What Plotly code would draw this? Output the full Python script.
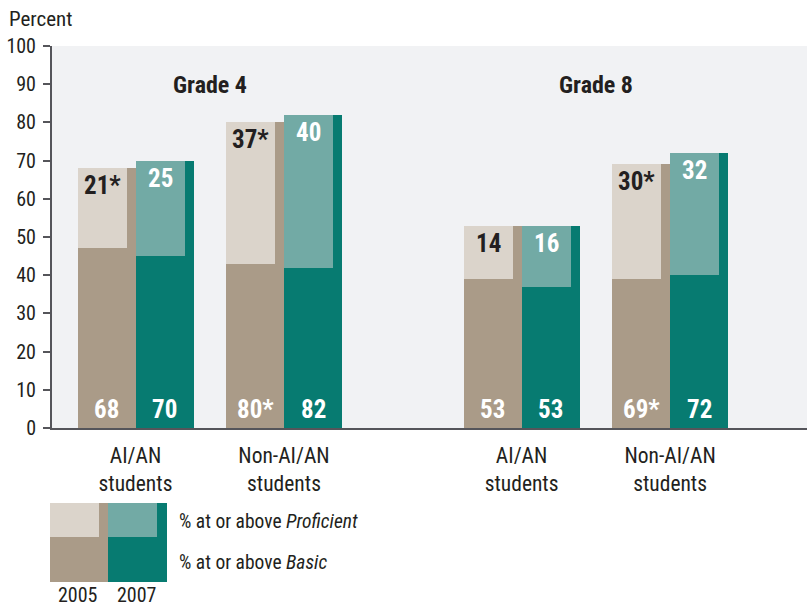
import plotly.graph_objects as go

# ---- data ----
groups = ["AI/AN<br>students", "Non-AI/AN<br>students", "AI/AN<br>students", "Non-AI/AN<br>students"]
grades = ["Grade 4", "Grade 8"]
years = ["2005", "2007"]
basic_2005 = [68, 80, 53, 69]
basic_2007 = [70, 82, 53, 72]
prof_2005 = [21, 37, 14, 30]
prof_2007 = [25, 40, 16, 32]
basic_2005_lbl = ["68", "80*", "53", "69*"]
basic_2007_lbl = ["70", "82", "53", "72"]
prof_2005_lbl = ["21*", "37*", "14", "30*"]
prof_2007_lbl = ["25", "40", "16", "32"]
y_ticks = [0, 10, 20, 30, 40, 50, 60, 70, 80, 90, 100]

# ---- layout constants ----
W, H = 807, 607
ML, MR, MT, MB = 52, 0, 46, 179
pos = [0, 1, 2.6, 3.6]          # group centres (in group units)
grade_pos = [0.5, 3.1]
BW = 58 / 148.5                  # full bar width
PW = 49 / 148.5                  # proficient overlay width
XR = [-0.5623, 4.522]

FONT = "Noto Sans Condensed, Liberation Sans Narrow, Roboto Condensed, Roboto, sans-serif"
TXT = "#231f20"
C05_D, C05_L = "#aa9b88", "#dbd4cb"
C07_D, C07_L = "#077b71", "#72aaa5"
PLOT_BG = "#f1f2f4"

pw, ph = W - ML - MR, H - MT - MB
def px(x):  # pixel -> paper x
    return (x - ML) / pw
def py(y):  # pixel -> paper y
    return (H - MB - y) / ph

def f(size, color=TXT, bold=False):
    d = dict(family=FONT, size=size, color=color)
    if bold:
        d["weight"] = "bold"
    return d

fig = go.Figure()
series = [
    (basic_2005, prof_2005, basic_2005_lbl, prof_2005_lbl, -BW, C05_D, C05_L, TXT),
    (basic_2007, prof_2007, basic_2007_lbl, prof_2007_lbl, 0.0, C07_D, C07_L, "white"),
]
annotations = []
for basic, prof, blbl, plbl, off, cd, cl, pcol in series:
    fig.add_trace(go.Bar(x=pos, y=basic, offset=off, width=BW, marker=dict(color=cd, line=dict(width=0)),
                         hoverinfo="skip", showlegend=False))
    fig.add_trace(go.Bar(x=pos, y=prof, base=[b - p for b, p in zip(basic, prof)], offset=off, width=PW,
                         marker=dict(color=cl, line=dict(width=0)), hoverinfo="skip", showlegend=False))
    for i in range(len(pos)):
        annotations.append(dict(x=pos[i] + off + PW / 2, y=basic[i], xref="x", yref="y", text=plbl[i],
                                showarrow=False, yanchor="top", yshift=-1, font=f(25, pcol, True)))
        annotations.append(dict(x=pos[i] + off + BW / 2, y=0, xref="x", yref="y", text=blbl[i],
                                showarrow=False, yanchor="bottom", yshift=2, font=f(25, "white", True)))

for g, gx in zip(grades, grade_pos):
    annotations.append(dict(x=gx, y=89.8, xref="x", yref="y", text=g, showarrow=False, font=f(24, TXT, True)))

annotations.append(dict(x=px(7), y=py(19), xref="paper", yref="paper", text="Percent", showarrow=False,
                        xanchor="left", yanchor="middle", font=f(21)))

# legend swatches
shapes = []
def rect(x0, y0, x1, y1, c):
    shapes.append(dict(type="rect", xref="paper", yref="paper", x0=px(x0), x1=px(x1), y0=py(y1), y1=py(y0),
                       fillcolor=c, line=dict(width=0), layer="above"))
rect(50, 503, 108, 582, C05_D)
rect(50, 503, 99, 537, C05_L)
rect(108, 503, 167, 582, C07_D)
rect(108, 503, 157, 537, C07_L)
for yr, cx in zip(years, [78, 137]):
    annotations.append(dict(x=px(cx), y=py(595), xref="paper", yref="paper", text=yr, showarrow=False,
                            xanchor="center", yanchor="middle", font=f(20)))
annotations.append(dict(x=px(177), y=py(521), xref="paper", yref="paper", text="% at or above <i>Proficient</i>",
                        showarrow=False, xanchor="left", yanchor="middle", font=f(19.5)))
annotations.append(dict(x=px(177), y=py(562), xref="paper", yref="paper", text="% at or above <i>Basic</i>",
                        showarrow=False, xanchor="left", yanchor="middle", font=f(19.5)))

fig.update_layout(
    width=W, height=H, margin=dict(l=ML, r=MR, t=MT, b=MB, pad=0),
    paper_bgcolor="white", plot_bgcolor=PLOT_BG, barmode="overlay", bargap=0,
    font=f(19),
    xaxis=dict(range=XR, tickmode="array", tickvals=pos, ticktext=groups, ticks="", showgrid=False,
               zeroline=False, showline=True, linecolor="#55555a", linewidth=2,
               tickfont=f(21.5), ticklabelstandoff=7, fixedrange=True),
    yaxis=dict(range=[0, 100], tickmode="array", tickvals=y_ticks, ticks="outside", ticklen=7, tickwidth=2,
               tickcolor="#55555a", showgrid=False, zeroline=False, showline=True, linecolor="#55555a",
               linewidth=2, tickfont=f(20), ticklabelstandoff=3, fixedrange=True),
    annotations=annotations, shapes=shapes,
)
fig.write_html("out.html", config={"displayModeBar": False},
               post_script="document.body.style.margin='0';document.body.style.overflow='hidden';")
